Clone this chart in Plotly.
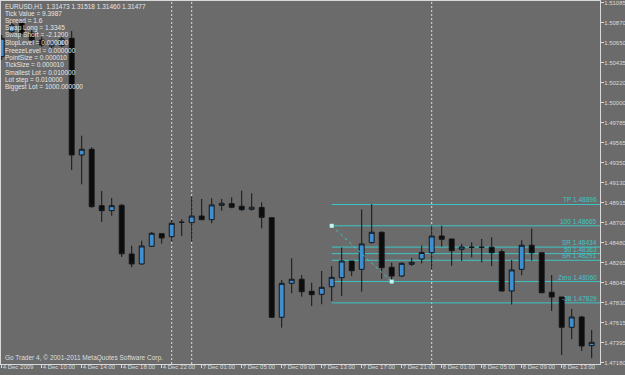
import plotly.graph_objects as go

# ---------------- data ----------------
day_hours = [("2009-12-04", range(6, 23)), ("2009-12-06", range(22, 24)),
             ("2009-12-07", range(0, 24)), ("2009-12-08", range(0, 17))]
times = [f"{d} {h:02d}:00" for d, hrs in day_hours for h in hrs]

opens = [1.50499, 1.50770, 1.50872, 1.50756, 1.50680, 1.50615, 1.50619, 1.50699, 1.49433, 1.49495,
         1.48883, 1.48829, 1.48887, 1.48359, 1.48251, 1.48443, 1.48580, 1.48547, 1.48703, 1.48699,
         1.48771, 1.48731, 1.48887, 1.48905, 1.48877, 1.48844, 1.48864, 1.48753, 1.47673, 1.48041,
         1.48085, 1.47955, 1.47922, 1.48004, 1.48102, 1.48283, 1.48193, 1.48482, 1.48595, 1.48215,
         1.48120, 1.48247, 1.48305, 1.48373, 1.48554, 1.48522, 1.48410, 1.48432, 1.48432, 1.48432,
         1.48384, 1.47958, 1.48193, 1.48454, 1.48373, 1.47944, 1.47893, 1.47564, 1.47676, 1.47365]
highs = [1.50735, 1.50887, 1.50897, 1.50789, 1.50713, 1.50680, 1.50724, 1.50778, 1.49642, 1.49517,
         1.49043, 1.48967, 1.48902, 1.48449, 1.48503, 1.48598, 1.48580, 1.48728, 1.48736, 1.48981,
         1.48956, 1.48963, 1.48956, 1.48974, 1.49046, 1.49018, 1.48920, 1.48760, 1.48077, 1.48313,
         1.48131, 1.48048, 1.48175, 1.48229, 1.48430, 1.48283, 1.48842, 1.48902, 1.48601, 1.48267,
         1.48267, 1.48316, 1.48451, 1.48666, 1.48666, 1.48522, 1.48468, 1.48486, 1.48522, 1.48540,
         1.48410, 1.48294, 1.48508, 1.48634, 1.48373, 1.48131, 1.47893, 1.47763, 1.47687, 1.47535]
lows = [1.50464, 1.50724, 1.50713, 1.50637, 1.50604, 1.50594, 1.50604, 1.49270, 1.49115, 1.48861,
        1.48706, 1.48775, 1.48327, 1.48215, 1.48243, 1.48438, 1.48471, 1.48497, 1.48554, 1.48497,
        1.48728, 1.48692, 1.48829, 1.48855, 1.48826, 1.48829, 1.48638, 1.47665, 1.47560, 1.47933,
        1.47896, 1.47795, 1.47814, 1.47849, 1.47904, 1.48120, 1.47950, 1.48473, 1.48088, 1.48059,
        1.48110, 1.48229, 1.48258, 1.48194, 1.48438, 1.48232, 1.48283, 1.48323, 1.48269, 1.48229,
        1.47952, 1.47811, 1.48128, 1.48287, 1.47936, 1.47741, 1.47264, 1.47434, 1.47307, 1.47228]
closes = [1.50699, 1.50843, 1.50753, 1.50680, 1.50626, 1.50648, 1.50691, 1.49433, 1.49495, 1.48872,
          1.48829, 1.48883, 1.48362, 1.48251, 1.48446, 1.48584, 1.48533, 1.48692, 1.48703, 1.48771,
          1.48731, 1.48891, 1.48909, 1.48866, 1.48840, 1.48866, 1.48757, 1.47673, 1.48041, 1.48085,
          1.47950, 1.47918, 1.47998, 1.48106, 1.48283, 1.48178, 1.48468, 1.48595, 1.48211, 1.48120,
          1.48258, 1.48269, 1.48376, 1.48554, 1.48519, 1.48395, 1.48435, 1.48432, 1.48432, 1.48373,
          1.47958, 1.48186, 1.48454, 1.48373, 1.47939, 1.47893, 1.47564, 1.47676, 1.47361, 1.47401]

time_tick_keys = ["2009-12-04 06:00", "2009-12-04 10:00", "2009-12-04 14:00", "2009-12-04 18:00",
                  "2009-12-04 22:00", "2009-12-07 01:00", "2009-12-07 05:00", "2009-12-07 09:00",
                  "2009-12-07 13:00", "2009-12-07 17:00", "2009-12-07 21:00", "2009-12-08 01:00",
                  "2009-12-08 05:00", "2009-12-08 09:00", "2009-12-08 13:00"]
time_tick_text = ["4 Dec 2009", "4 Dec 10:00", "4 Dec 14:00", "4 Dec 18:00", "4 Dec 22:00",
                  "7 Dec 01:00", "7 Dec 05:00", "7 Dec 09:00", "7 Dec 13:00", "7 Dec 17:00",
                  "7 Dec 21:00", "8 Dec 01:00", "8 Dec 05:00", "8 Dec 09:00", "8 Dec 13:00"]
separators = ["2009-12-06 22:00", "2009-12-07 00:00", "2009-12-08 00:00"]

price_ticks = ["1.51085", "1.50870", "1.50650", "1.50435", "1.50220", "1.50000", "1.49785",
               "1.49565", "1.49350", "1.49130", "1.48915", "1.48700", "1.48480", "1.48265",
               "1.48045", "1.47830", "1.47615", "1.47395", "1.47180"]

fib_names = ["TP", "100", "SR", "50", "SR", "Zero", "-38"]
fib_prices = [1.48896, 1.48665, 1.48434, 1.48363, 1.48291, 1.48060, 1.47829]
fib_start = "2009-12-07 14:00"
fib_trend_times = ["2009-12-07 14:00", "2009-12-07 20:00"]
fib_trend_prices = [1.48665, 1.48060]

info_lines = ["EURUSD,H1  1.31473 1.31518 1.31460 1.31477", "Tick Value = 9.3987", "Spread = 1.6",
              "Swap Long = 1.3345", "Swap Short = -2.1200", "StopLevel = 0.000000",
              "FreezeLevel = 0.000000", "PointSize = 0.000010", "TickSize = 0.000010",
              "Smallest Lot = 0.010000", "Lot step = 0.010000", "Biggest Lot = 1000.000000"]
copyright_text = "Go Trader 4, © 2001-2011 MetaQuotes Software Corp."

# ---------------- style ----------------
BG = "#6b6b6b"
FG = "#d9d9d9"
CYAN = "#3cc6c6"
FONT = "Liberation Sans Narrow, Arial Narrow, Liberation Sans, Arial, sans-serif"
FS = 6.5
X_RANGE = [-0.07, 59.83]
Y_RANGE = [1.47166, 1.51103]
PLOT_TOP, PLOT_BOTTOM = 1, 364

idx = {t: i for i, t in enumerate(times)}
xs = list(range(len(times)))

fig = go.Figure()

# fib horizontal levels
for name, p in zip(fib_names, fib_prices):
    fig.add_shape(type="line", xref="x", yref="y", x0=idx[fib_start], x1=X_RANGE[1], y0=p, y1=p,
                  line=dict(color=CYAN, width=1), layer="below")
    fig.add_annotation(xref="paper", yref="y", x=0.9967, y=p, xanchor="right", yanchor="bottom",
                       text=f"{name} {p:.5f}", showarrow=False, borderpad=0,
                       font=dict(family=FONT, size=FS, color=CYAN), yshift=0)

# day separators
for s in separators:
    fig.add_shape(type="line", xref="x", yref="paper", x0=idx[s], x1=idx[s], y0=0, y1=1,
                  line=dict(color="#dcdcdc", width=1, dash="2px,2px"), layer="below")

fig.add_trace(go.Candlestick(
    x=xs, open=opens, high=highs, low=lows, close=closes,
    increasing=dict(line=dict(color="#161616", width=1), fillcolor="#3f8fd2"),
    decreasing=dict(line=dict(color="#161616", width=1), fillcolor="#0c0c0c"),
    whiskerwidth=0, showlegend=False, hoverinfo="skip"))

# fib trend line
fig.add_trace(go.Scatter(
    x=[idx[t] for t in fib_trend_times], y=fib_trend_prices, mode="lines+markers",
    line=dict(color=CYAN, width=1, dash="dot"),
    marker=dict(symbol="square", size=4, color="#bff5f5", line=dict(width=0)),
    showlegend=False, hoverinfo="skip"))

# info text block
H = PLOT_BOTTOM - PLOT_TOP
info_y = [6.0] + [6.0 + 7.35 * k for k in range(1, len(info_lines))]
for line, ypix in zip(info_lines, info_y):
    fig.add_annotation(xref="paper", yref="paper", x=0.005, y=(PLOT_BOTTOM - ypix) / H,
                       xanchor="left", yanchor="middle", text=line, showarrow=False, borderpad=0,
                       font=dict(family=FONT, size=FS, color="#e6e6e6"))
fig.add_annotation(xref="paper", yref="paper", x=0.005, y=(PLOT_BOTTOM - 357.5) / H,
                   xanchor="left", yanchor="middle", text=copyright_text, showarrow=False,
                   borderpad=0, font=dict(family=FONT, size=FS, color="#dedede"))

fig.update_layout(
    width=625, height=375,
    margin=dict(l=1, r=25, t=PLOT_TOP, b=375 - PLOT_BOTTOM, pad=0, autoexpand=False),
    paper_bgcolor=BG, plot_bgcolor=BG,
    showlegend=False,
    xaxis=dict(range=X_RANGE, rangeslider=dict(visible=False), showgrid=False, zeroline=False,
               tickmode="array", tickvals=[idx[k] for k in time_tick_keys], ticktext=time_tick_text,
               ticks="outside", ticklen=3, tickcolor=FG, showline=True, linecolor=FG, linewidth=1,
               mirror=True, ticklabelposition="outside right", ticklabelstandoff=-3,
               ticklabeloverflow="allow", tickangle=0, automargin=False,
               tickfont=dict(family=FONT, size=6, color=FG)),
    yaxis=dict(range=Y_RANGE, side="right", showgrid=False, zeroline=False,
               tickmode="array", tickvals=[float(t) for t in price_ticks], ticktext=price_ticks,
               ticks="outside", ticklen=3, tickcolor=FG, showline=True, linecolor=FG, linewidth=1,
               mirror=True, ticklabelstandoff=-1, ticklabeloverflow="allow", automargin=False,
               tickfont=dict(family=FONT, size=6, color=FG)),
)

fig.write_html("out.html", config={"displayModeBar": False})
